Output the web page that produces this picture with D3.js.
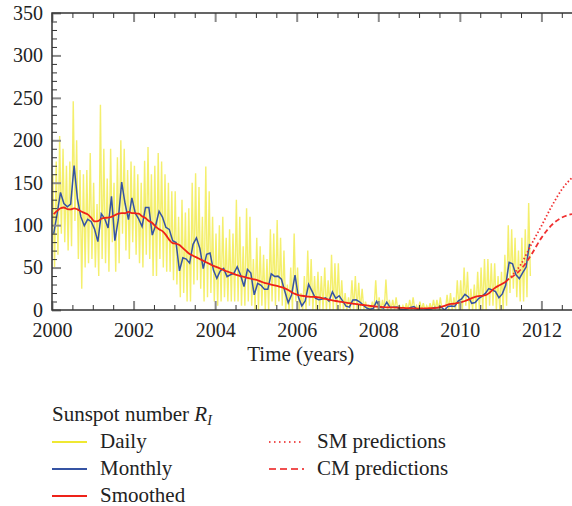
<!DOCTYPE html>
<html>
<head>
<meta charset="utf-8">
<script src="https://cdn.jsdelivr.net/npm/d3@7"></script>
<style>
  body { margin: 0; background: #fff; }
  text { font-family: "Liberation Serif", serif; fill: #222; }
</style>
</head>
<body>
<svg id="chart"></svg>
<script>
// first month of every monthly series
var startYear = 2000;

// monthly sunspot number, Jan 2000 .. Sep 2011
var monthly = [
  90.1,112.9,138.5,125.5,121.6,124.9,170.1,130.5,109.7,99.4,106.8,104.4,
  95.6,80.6,113.5,107.7,96.6,134.0,81.8,106.4,150.7,125.5,106.5,132.2,
  114.1,107.4,98.4,120.7,120.8,88.3,99.6,116.4,109.6,97.5,95.0,81.6,
  79.5,46.2,61.5,60.0,55.2,77.4,85.0,72.7,48.8,65.6,67.2,47.0,
  37.2,46.0,48.9,39.3,41.5,43.2,51.0,40.9,27.7,48.0,43.5,17.9,
  31.3,29.2,24.5,24.4,42.6,39.6,39.9,36.4,22.1,8.5,18.0,41.2,
  15.3,4.9,10.6,30.2,22.3,13.9,12.2,12.9,14.4,10.5,21.4,13.6,
  16.8,10.7,4.5,3.4,11.7,12.1,9.7,6.0,2.4,0.9,1.7,10.1,
  3.3,2.1,9.3,2.9,3.2,3.4,0.8,0.5,1.1,2.9,4.1,0.8,
  1.5,1.4,0.7,1.2,2.9,2.6,3.5,0.0,4.2,4.6,4.2,10.6,
  13.1,18.6,15.4,7.9,8.8,13.5,16.1,19.6,25.2,23.5,21.6,14.4,
  19.0,29.4,56.2,54.4,41.6,37.0,43.9,50.6,78.0
];

// smoothed sunspot number, Jan 2000 .. Mar 2011
var smoothed = [
  112.9,116.8,119.9,120.8,119.0,118.7,119.8,118.6,116.3,114.5,112.7,108.8,
  104.4,104.8,107.5,108.6,108.8,109.8,111.7,113.6,114.1,114.0,115.6,114.2,
  114.0,113.5,110.4,108.4,104.9,102.6,98.3,95.2,92.9,88.5,82.7,78.8,
  78.3,76.6,73.0,69.3,65.9,64.0,62.0,60.0,58.0,56.0,54.0,52.0,
  50.5,48.8,47.0,45.5,44.0,42.5,41.0,40.0,39.0,38.0,37.0,36.0,
  35.0,33.5,32.0,31.0,30.0,29.0,28.0,27.0,25.5,23.5,21.0,19.0,
  17.5,16.8,16.2,15.8,15.5,15.3,14.8,14.0,13.0,12.2,11.4,10.6,
  9.9,9.3,8.7,8.1,7.6,7.0,6.4,5.9,5.4,4.9,4.4,4.0,
  3.7,3.4,3.2,3.1,3.0,2.8,2.6,2.4,2.1,1.9,1.8,1.7,
  1.8,1.9,2.0,2.2,2.3,2.7,3.6,4.8,6.2,7.1,7.6,8.3,
  9.3,10.6,12.3,14.0,15.5,16.4,16.7,17.4,19.6,23.2,26.5,28.8,
  31.0,33.4,36.9
];

// daily sunspot number: highest and lowest daily value of each month
var dailyHigh = [
  160,175,205,190,170,175,246,200,165,160,165,185,
  150,125,242,190,155,190,150,180,200,190,165,175,
  170,160,150,176,192,160,170,185,175,160,150,140,
  140,110,130,115,120,150,161,145,110,169,140,110,
  90,100,110,85,95,90,130,110,75,120,110,60,
  85,75,65,60,95,90,106,85,70,30,50,90,
  50,20,40,70,60,40,45,40,50,35,65,55,
  55,35,20,15,35,40,32,25,10,5,10,35,
  15,12,36,12,12,15,5,5,8,12,15,5,
  10,8,5,8,12,12,15,0,18,20,15,35,
  35,50,45,25,30,45,50,60,60,55,55,40,
  45,65,100,95,85,70,85,95,126
];
var dailyLow = [
  50,65,90,80,70,75,105,60,25,50,55,60,
  50,40,60,55,45,80,45,55,90,70,60,80,
  65,55,50,65,60,40,40,60,50,45,45,35,
  30,15,20,10,10,30,35,25,10,15,20,10,
  5,10,15,10,10,10,10,5,5,10,5,0,
  0,5,0,0,10,5,10,5,0,0,0,10,
  0,0,0,5,0,0,0,0,0,0,0,0,
  0,0,0,0,0,0,0,0,0,0,0,0,
  0,0,0,0,0,0,0,0,0,0,0,0,
  0,0,0,0,0,0,0,0,0,0,0,0,
  0,5,0,0,0,0,0,0,5,5,0,0,
  0,5,20,25,15,10,10,15,40
];

// predictions of the smoothed number
var predYears = [2011.25, 2011.5, 2011.75, 2012.0, 2012.25, 2012.5, 2012.75];
var smPred = [39, 54, 77, 99, 122, 142, 156];
var cmPred = [38, 48, 65, 85, 100, 109, 113];

var xTicks = [2000, 2002, 2004, 2006, 2008, 2010, 2012];
var yTicks = [0, 50, 100, 150, 200, 250, 300, 350];

// set the dimensions and margins of the graph
var margin = {top: 13, right: 0, bottom: 196, left: 52},
  width = 572 - margin.left - margin.right,
  height = 506 - margin.top - margin.bottom;

var root = d3.select("#chart")
  .attr("width", 572)
  .attr("height", 506);

var svg = root.append("g")
  .attr("transform", "translate(" + margin.left + "," + margin.top + ")");

var x = d3.scaleLinear().domain([2000, 2012.75]).range([0, width]);
var y = d3.scaleLinear().domain([0, 350]).range([height, 0]);

var monthTime = function(i) { return startYear + (i + 0.5) / 12; };

svg.append("clipPath")
  .attr("id", "clip")
  .append("rect")
  .attr("width", width)
  .attr("height", height);

var plot = svg.append("g").attr("clip-path", "url(#clip)");

var line = d3.line()
  .x(function(d) { return x(d[0]); })
  .y(function(d) { return y(d[1]); });

// daily: zigzag between the high and low of each month
var dailyPts = [];
dailyHigh.forEach(function(h, i) {
  dailyPts.push([startYear + (i + 0.25) / 12, h]);
  dailyPts.push([startYear + (i + 0.75) / 12, dailyLow[i]]);
});

plot.append("path")
  .datum(dailyPts)
  .attr("fill", "none")
  .attr("stroke", "#f0ea3c")
  .attr("stroke-opacity", 0.75)
  .attr("stroke-width", 1.4)
  .attr("d", line);

plot.append("path")
  .datum(monthly.map(function(v, i) { return [monthTime(i), v]; }))
  .attr("fill", "none")
  .attr("stroke", "#3553a3")
  .attr("stroke-width", 1.5)
  .attr("d", line);

var smoothLine = d3.line()
  .x(function(d) { return x(d[0]); })
  .y(function(d) { return y(d[1]); })
  .curve(d3.curveMonotoneX);

plot.append("path")
  .datum(smoothed.map(function(v, i) { return [monthTime(i), v]; }))
  .attr("fill", "none")
  .attr("stroke", "#ee2219")
  .attr("stroke-width", 1.8)
  .attr("d", smoothLine);

plot.append("path")
  .datum(predYears.map(function(t, i) { return [t, smPred[i]]; }))
  .attr("fill", "none")
  .attr("stroke", "#f03030")
  .attr("stroke-width", 1.8)
  .attr("stroke-dasharray", "1.5,2.2")
  .attr("d", smoothLine);

plot.append("path")
  .datum(predYears.map(function(t, i) { return [t, cmPred[i]]; }))
  .attr("fill", "none")
  .attr("stroke", "#f03030")
  .attr("stroke-width", 1.8)
  .attr("stroke-dasharray", "5,3")
  .attr("d", smoothLine);

// axes, ticks pointing inward
var minorX = d3.range(2000, 2013, 0.5).filter(function(t) { return t % 2 !== 0; });
var minorY = d3.range(0, 351, 10).filter(function(v) { return v % 50 !== 0; });

function styleTicks(g, color, w) {
  g.select(".domain").remove();
  g.selectAll(".tick line").attr("stroke", color).attr("stroke-width", w);
}

svg.append("g")
  .attr("transform", "translate(0," + height + ")")
  .call(d3.axisBottom(x).tickValues(minorX).tickSize(-5).tickFormat(""))
  .call(styleTicks, "#333", 1);
svg.append("g")
  .call(d3.axisTop(x).tickValues(minorX).tickSize(-5).tickFormat(""))
  .call(styleTicks, "#333", 1);
svg.append("g")
  .call(d3.axisLeft(y).tickValues(minorY).tickSize(-5).tickFormat(""))
  .call(styleTicks, "#333", 1);

svg.append("g")
  .attr("transform", "translate(0," + height + ")")
  .call(d3.axisBottom(x).tickValues(xTicks).tickSize(-9).tickPadding(12.5).tickFormat(d3.format("d")))
  .call(styleTicks, "#8a8a8a", 2);
svg.append("g")
  .call(d3.axisTop(x).tickValues(xTicks).tickSize(-9).tickFormat(""))
  .call(styleTicks, "#8a8a8a", 2);
svg.append("g")
  .call(d3.axisLeft(y).tickValues(yTicks).tickSize(-9).tickPadding(9))
  .call(styleTicks, "#8a8a8a", 2);

root.selectAll(".tick text")
  .style("font-family", "'Liberation Serif', serif")
  .style("font-size", "20px")
  .attr("fill", "#222");

// frame
svg.append("path")
  .attr("d", "M" + (width + 5) + ",0H0V" + height + "H" + (width + 5))
  .attr("fill", "none")
  .attr("stroke", "#333")
  .attr("stroke-width", 1.5);

// axis title
svg.append("text")
  .attr("x", x(2006.1))
  .attr("y", height + 51)
  .attr("text-anchor", "middle")
  .style("font-size", "21px")
  .text("Time (years)");

// legend
var legend = root.append("g");
var title = legend.append("text")
  .attr("x", 52)
  .attr("y", 420.5)
  .style("font-size", "21px");
title.append("tspan").text("Sunspot number ");
title.append("tspan").style("font-style", "italic").text("R");
title.append("tspan").style("font-style", "italic").style("font-size", "14px").attr("dy", 4).text("I");

var legendItems = [
  {label: "Daily", color: "#efe832", dash: null, lx: 52, ly: 442},
  {label: "Monthly", color: "#3553a3", dash: null, lx: 52, ly: 469},
  {label: "Smoothed", color: "#ee2219", dash: null, lx: 52, ly: 496},
  {label: "SM predictions", color: "#f05050", dash: "1.5,3.5", lx: 269, ly: 442},
  {label: "CM predictions", color: "#f05050", dash: "7,4", lx: 269, ly: 469}
];

legendItems.forEach(function(d) {
  legend.append("line")
    .attr("x1", d.lx).attr("x2", d.lx + 35)
    .attr("y1", d.ly).attr("y2", d.ly)
    .attr("stroke", d.color)
    .attr("stroke-width", 2.2)
    .attr("stroke-dasharray", d.dash);
  legend.append("text")
    .attr("x", d.lx + 48)
    .attr("y", d.ly + 6)
    .style("font-size", "21px")
    .text(d.label);
});
</script>
</body>
</html>
